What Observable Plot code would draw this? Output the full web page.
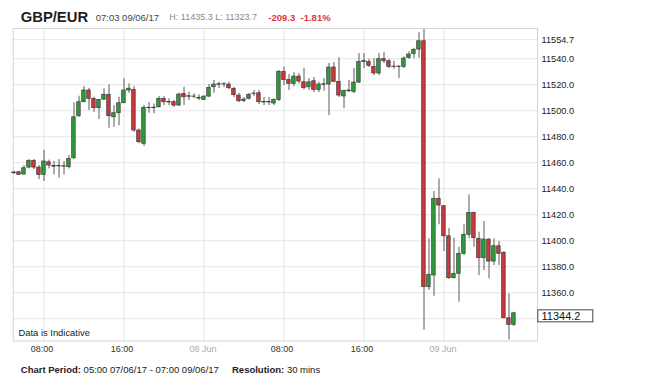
<!DOCTYPE html>
<html><head><meta charset="utf-8">
<script src="https://cdn.jsdelivr.net/npm/d3@7"></script>
<script src="https://cdn.jsdelivr.net/npm/@observablehq/plot@0.6"></script>
<style>
body{margin:0;background:#fff;font-family:"Liberation Sans",Arial,Helvetica,sans-serif;}
#wrap{position:relative;width:650px;height:387px;overflow:hidden;background:#fff;}
#chart{position:absolute;left:0;top:0;}
.a{position:absolute;white-space:nowrap;line-height:1;}
</style></head><body>
<div id="wrap">
  <div id="chart"></div>
  <span class="a" style="left:20.7px;top:10.2px;font-size:14.8px;font-weight:bold;color:#1e1e1e;">GBP/EUR</span>
  <span class="a" style="left:95.7px;top:12.7px;font-size:9.5px;color:#444;">07:03 09/06/17</span>
  <span class="a" style="left:169.3px;top:12.7px;font-size:9px;color:#8a8a8a;">H: 11435.3 L: 11323.7</span>
  <span class="a" style="left:268.3px;top:12.7px;font-size:9.5px;font-weight:bold;color:#d8383c;">-209.3&nbsp;&nbsp;-1.81%</span>
  <span class="a" style="left:20.8px;top:364.5px;font-size:9.5px;color:#222;"><b>Chart Period:</b> 05:00 07/06/17 - 07:00 09/06/17</span>
  <span class="a" style="left:232px;top:364.5px;font-size:9.5px;color:#222;"><b>Resolution:</b> 30 mins</span>
</div>
<script>
// 30-minute candles, starting 05:00 07/06/17 (UTC used as wall clock)
const open = [11452.5,11452.7,11451.0,11456.3,11461.5,11456.3,11450.7,11460.4,11457.6,11457.2,
11457.3,11456.6,11463.5,11495.8,11506.6,11515.6,11509.2,11502.0,11508.6,11512.3,
11495.0,11498.1,11505.8,11515.6,11516.1,11484.8,11474.6,11502.3,11502.0,11502.7,
11509.2,11506.8,11506.6,11504.0,11513.0,11511.2,11510.8,11509.8,11508.4,11510.9,
11518.1,11520.0,11520.4,11520.2,11516.9,11511.7,11508.6,11509.2,11512.8,11513.5,
11506.8,11506.4,11505.6,11508.4,11529.8,11523.6,11520.7,11526.3,11521.9,11518.1,
11522.7,11516.0,11520.0,11520.2,11533.3,11522.1,11511.0,11515.0,11514.6,11521.7,
11537.6,11537.6,11533.8,11528.7,11539.7,11538.1,11533.6,11534.0,11533.8,11540.7,
11543.6,11547.1,11553.5,11364.3,11373.3,11432.3,11426.6,11403.5,11371.2,11374.6,
11390.0,11404.6,11421.5,11401.5,11386.6,11400.9,11384.0,11395.8,11390.7,11340.4,
11335.3];
const high = [11453.5,11453.5,11457.9,11462.5,11462.5,11457.9,11469.6,11462.0,11461.0,11462.5,
11461.0,11465.6,11506.1,11511.2,11518.6,11517.3,11510.4,11508.6,11516.9,11520.0,
11504.0,11510.4,11524.6,11520.7,11518.6,11486.1,11504.0,11506.3,11505.3,11511.0,
11511.0,11509.2,11507.9,11513.5,11518.1,11514.3,11513.0,11512.3,11511.5,11520.2,
11523.3,11522.0,11521.7,11522.0,11518.1,11513.3,11510.2,11513.5,11515.6,11515.6,
11510.2,11510.2,11509.2,11531.0,11533.5,11527.9,11529.4,11528.6,11532.5,11524.8,
11525.6,11522.0,11524.8,11536.4,11537.1,11540.7,11515.8,11523.3,11532.5,11544.0,
11544.0,11539.7,11540.2,11544.0,11544.8,11539.7,11538.1,11534.6,11541.5,11545.3,
11548.1,11560.0,11562.5,11401.5,11437.9,11447.6,11427.1,11409.6,11402.0,11395.0,
11412.3,11435.3,11422.0,11406.6,11414.8,11401.5,11401.5,11399.4,11391.7,11359.2,
11345.0];
const low = [11451.0,11450.2,11450.2,11455.3,11454.8,11447.1,11445.6,11455.3,11450.7,11448.1,
11450.7,11455.3,11462.5,11495.0,11506.3,11500.2,11498.9,11493.3,11507.9,11486.6,
11487.3,11488.6,11505.6,11513.5,11483.5,11474.6,11472.5,11498.1,11497.6,11502.3,
11504.0,11504.0,11502.7,11503.3,11504.0,11507.9,11509.2,11507.9,11507.9,11510.2,
11513.5,11517.0,11517.9,11516.1,11510.2,11506.3,11506.3,11508.4,11511.0,11504.8,
11504.0,11504.0,11504.0,11507.1,11519.4,11515.6,11518.6,11520.7,11516.1,11515.6,
11514.0,11514.0,11515.1,11496.3,11521.7,11510.2,11501.7,11514.0,11513.3,11521.0,
11532.5,11533.3,11527.1,11527.1,11536.3,11532.5,11532.0,11524.8,11532.5,11539.7,
11540.0,11540.4,11331.0,11361.7,11357.3,11412.3,11391.7,11370.2,11370.7,11352.7,
11388.6,11401.5,11395.0,11373.3,11377.1,11370.7,11381.0,11381.0,11340.0,11323.7,
11334.2];
const close = [11452.0,11450.7,11455.8,11461.5,11456.3,11450.7,11461.0,11457.9,11457.0,11457.6,
11457.0,11463.0,11495.0,11506.6,11515.6,11509.2,11502.0,11508.4,11512.3,11495.8,
11498.1,11505.8,11515.6,11517.0,11484.8,11475.8,11502.3,11502.0,11502.4,11509.2,
11506.6,11506.4,11504.0,11512.5,11510.4,11510.8,11511.0,11509.4,11510.9,11517.6,
11520.2,11520.4,11520.2,11517.4,11512.0,11507.3,11507.6,11512.3,11513.2,11506.6,
11506.4,11506.8,11508.4,11529.8,11523.6,11520.7,11526.3,11522.5,11517.4,11521.9,
11516.0,11520.2,11520.4,11533.3,11522.1,11511.7,11515.2,11515.6,11521.7,11537.6,
11538.4,11534.6,11528.7,11539.7,11538.1,11533.8,11534.0,11533.6,11540.2,11543.3,
11546.9,11553.5,11364.3,11373.8,11432.3,11427.1,11403.5,11371.2,11374.6,11390.0,
11404.6,11421.5,11402.0,11386.6,11400.9,11384.0,11395.8,11390.0,11340.4,11335.3,
11344.2];

const gridTicks = [11340,11360,11380,11400,11420,11440,11460,11480,11500,11520,11540,11554.7];
const yTickLabels = [11360,11380,11400,11420,11440,11460,11480,11500,11520,11540,11554.7]; // 11340.0 sits under the price box
const xTickTimes = ["2017-06-07T08:00Z","2017-06-07T16:00Z","2017-06-08T08:00Z","2017-06-08T16:00Z"];
const xTickTimeLabels = ["08:00","16:00","08:00","16:00"];
const xTickDays = ["2017-06-08T00:00Z","2017-06-09T00:00Z"];
const xTickDayLabels = ["08 Jun","09 Jun"];
const startTime = "2017-06-07T05:00Z";
const resolutionMin = 30;

const t0 = new Date(startTime);
const candles = open.map((o, i) => ({
  t: d3.utcMinute.offset(t0, i * resolutionMin),
  o, h: high[i], l: low[i], c: close[i]
}));
const timeTicks = xTickTimes.map((s, i) => ({t: new Date(s), label: xTickTimeLabels[i]}));
const dayTicks = xTickDays.map((s, i) => ({t: new Date(s), label: xTickDayLabels[i]}));
const allTicks = [...timeTicks, ...dayTicks].map(d => d.t);
const fmt = d3.format(".1f");
const last = close[close.length - 1];

const xDomain = [d3.utcMinute.offset(t0, -4.8), d3.utcMinute.offset(t0, -4.8 + 52.43 * 60)];
const halfW = 10.5; // minutes

const chart = Plot.plot({
  width: 650, height: 387,
  marginTop: 28, marginBottom: 46.5, marginLeft: 12.7, marginRight: 113,
  x: {type: "utc", domain: xDomain, axis: null},
  y: {domain: [11322.9, 11563.3], axis: null},
  style: {fontFamily: '"Liberation Sans", Arial, sans-serif', background: "transparent", overflow: "visible"},
  marks: [
    Plot.ruleY(gridTicks, {stroke: "#e6e6e6"}),
    Plot.ruleX(allTicks, {stroke: "#e6e6e6"}),
    Plot.frame({stroke: "#d6d6d6"}),
    Plot.axisY(yTickLabels, {anchor: "right", tickSize: 0, tickPadding: 4, tickFormat: fmt, fill: "#222", fontSize: 9.2, label: null}),
    Plot.text(timeTicks, {x: "t", text: "label", frameAnchor: "bottom", lineAnchor: "middle", dy: 8, dx: -2, fontSize: 9, fill: "#333"}),
    Plot.text(dayTicks, {x: "t", text: "label", frameAnchor: "bottom", lineAnchor: "middle", dy: 8, dx: -1, fontSize: 9, fill: "#aaa"}),
    Plot.text(["Data is Indicative"], {frameAnchor: "bottom-left", textAnchor: "start", lineAnchor: "middle", dx: 5.3, dy: -8.5, fontSize: 9.4, fill: "#222"}),
    Plot.ruleX(candles, {x: "t", y1: "l", y2: "h", stroke: "#5a5a5a", strokeWidth: 1}),
    Plot.rect(candles, {
      x1: d => d3.utcMinute.offset(d.t, -halfW),
      x2: d => d3.utcMinute.offset(d.t, halfW),
      y1: "o", y2: "c",
      fill: d => d.c >= d.o ? "#2f9a39" : "#c9383a",
      stroke: "#3a3a3a", strokeWidth: 0.7
    }),
    Plot.text([last], {y: d => d, text: d => fmt(d), frameAnchor: "right", textAnchor: "start", dx: 4, dy: 3, fontSize: 11, fill: "#111"})
  ]
});
document.getElementById("chart").appendChild(chart);

// box behind the last-price label
const lbl = Array.from(chart.querySelectorAll("text")).find(e => e.textContent === fmt(last));
if (lbl) {
  const bb = lbl.getBBox();
  const r = document.createElementNS("http://www.w3.org/2000/svg", "rect");
  r.setAttribute("x", bb.x - 3.7);
  r.setAttribute("y", bb.y + bb.height / 2 - 6);
  r.setAttribute("width", 55);
  r.setAttribute("height", 12);
  r.setAttribute("fill", "#fff");
  r.setAttribute("stroke", "#444");
  r.setAttribute("stroke-width", 1);
  const tr = lbl.getAttribute("transform");
  if (tr) r.setAttribute("transform", tr);
  lbl.parentNode.insertBefore(r, lbl);
}
</script>
</body></html>
